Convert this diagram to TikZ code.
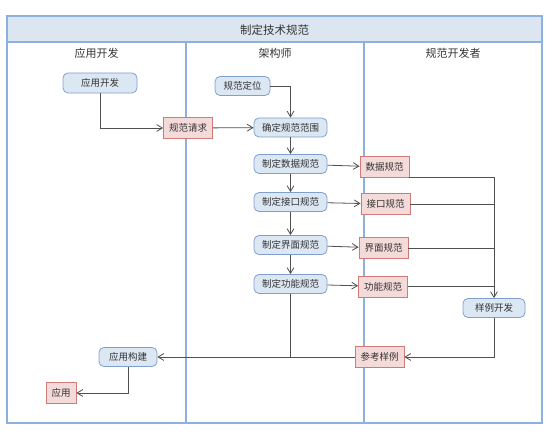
\documentclass[tikz,border=0pt]{standalone}
\usepackage{fontspec}
\newfontfamily\cjk{Noto Sans CJK SC}
\usetikzlibrary{arrows.meta, positioning}
\definecolor{laneblue}{HTML}{8EB0DD}
\definecolor{headfill}{HTML}{DCE6F1}
\definecolor{stepfill}{HTML}{DCE7F4}
\definecolor{stepline}{HTML}{7FA0CF}
\definecolor{docfill}{HTML}{F5DADA}
\definecolor{docline}{HTML}{D07A7A}
\definecolor{flowgray}{HTML}{505050}
\definecolor{inkgray}{HTML}{333333}
\tikzset{
    task/.style={rectangle, rounded corners=5pt, draw=stepline, fill=stepfill, line width=0.8pt, minimum width=73pt, minimum height=19pt, inner sep=2pt, text=inkgray, font=\cjk\fontsize{9.5}{11}\selectfont},
    doc/.style={rectangle, draw=docline, fill=docfill, line width=0.8pt, minimum width=49pt, minimum height=21pt, inner sep=2pt, text=inkgray, font=\cjk\fontsize{9.5}{11}\selectfont},
    lanetitle/.style={text=inkgray, font=\cjk\fontsize{11}{13}\selectfont},
    lane/.style={draw=laneblue, line width=1.2pt},
    flow/.style={-{Straight Barb[length=2mm, width=2.4mm]}, flowgray, line width=0.8pt},
    merge/.style={flowgray, line width=0.8pt},
}

\begin{document}
\begin{tikzpicture}[x=1pt, y=-1pt]

\useasboundingbox (0,0) rectangle (554,435);

% Pool and lanes
\fill[headfill] (7,16) rectangle (542,42);
\draw[lane] (7,16) rectangle (542,423);
\draw[lane] (7,42) -- (542,42);
\draw[lane] (186,42) -- (186,423);
\draw[lane] (364,42) -- (364,423);

\node[lanetitle, font=\cjk\fontsize{11.5}{13}\selectfont] (pool) at (274.5,30) {制定技术规范};
\node[lanetitle] (laneapp) at (96.5,53) {应用开发};
\node[lanetitle] (lanearch) at (275,53) {架构师};
\node[lanetitle] (lanespec) at (453,53) {规范开发者};

% Steps
\node[task, minimum width=74pt, minimum height=20pt] (appdev) at (100,83) {应用开发};
\node[task, minimum width=55pt] (specpos) at (242.5,86) {规范定位};
\node[doc] (specreq) at (188,128) {规范请求};
\node[task] (scope) at (290.5,127.5) {确定规范范围};
\node[task] (mkdata) at (290.5,164) {制定数据规范};
\node[task] (mkiface) at (290.5,202) {制定接口规范};
\node[task] (mkui) at (290.5,245) {制定界面规范};
\node[task] (mkfunc) at (290.5,284) {制定功能规范};
\node[task, minimum width=62pt] (sample) at (494,308) {样例开发};
\node[task, minimum width=58pt] (build) at (128,357) {应用构建};

% Documents
\node[doc] (data) at (384.5,167) {数据规范};
\node[doc] (iface) at (385.5,204) {接口规范};
\node[doc] (ui) at (383.5,248) {界面规范};
\node[doc] (func) at (383,286.5) {功能规范};
\node[doc] (refsample) at (379.5,357) {参考样例};
\node[doc, minimum width=30pt] (app) at (61,393) {应用};

% Flows
\draw[flow] (appdev) |- (specreq);
\draw[flow] (specreq) -- (scope);
\draw[flow] (specpos) -| (scope);
\draw[flow] (scope) -- (mkdata);
\draw[flow] (mkdata) -- (mkiface);
\draw[flow] (mkiface) -- (mkui);
\draw[flow] (mkui) -- (mkfunc);

\draw[flow] (mkdata) -- (data);
\draw[flow] (mkiface) -- (iface);
\draw[flow] (mkui) -- (ui);
\draw[flow] (mkfunc) -- (func);

\draw[flow] (data.south east) -| (sample);
\draw[merge] (iface) -- (iface -| sample);
\draw[merge] (ui) -- (ui -| sample);
\draw[merge] (func) -- (func -| sample);

\draw[flow] (sample) |- (refsample);
\draw[flow] (refsample) -- (build);
\draw[merge] (mkfunc) -- (mkfunc |- build);
\draw[flow] (build) |- (app);

\end{tikzpicture}
\end{document}
